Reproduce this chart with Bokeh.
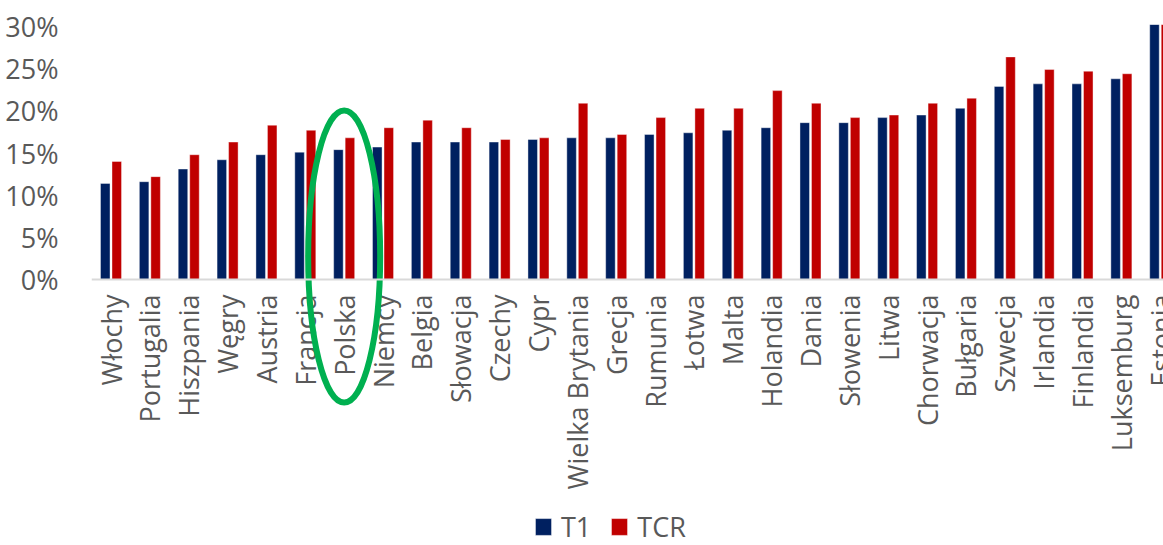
import numpy as np
from bokeh.plotting import figure
from bokeh.models import (Range1d, FixedTicker, CustomJSTickFormatter, Legend,
                          LegendItem, ColumnDataSource, Span)
from bokeh.core.properties import value
from bokeh.embed import file_html
from bokeh.resources import INLINE

countries = ["Włochy", "Portugalia", "Hiszpania", "Węgry", "Austria", "Francja",
             "Polska", "Niemcy", "Belgia", "Słowacja", "Czechy", "Cypr",
             "Wielka Brytania", "Grecja", "Rumunia", "Łotwa", "Malta", "Holandia",
             "Dania", "Słowenia", "Litwa", "Chorwacja", "Bułgaria", "Szwecja",
             "Irlandia", "Finlandia", "Luksemburg", "Estonia"]
t1 = [11.4, 11.6, 13.1, 14.2, 14.8, 15.1, 15.4, 15.7, 16.3, 16.3, 16.3, 16.6,
      16.8, 16.8, 17.2, 17.4, 17.7, 18.0, 18.6, 18.6, 19.2, 19.5, 20.3, 22.9,
      23.2, 23.2, 23.8, 34.0]
tcr = [14.0, 12.2, 14.8, 16.3, 18.3, 17.7, 16.8, 18.0, 18.9, 18.0, 16.6, 16.8,
       20.9, 17.2, 19.2, 20.3, 20.3, 22.4, 20.9, 19.2, 19.5, 20.9, 21.5, 26.4,
       24.9, 24.7, 24.4, 34.0]
series = ["T1", "TCR"]
y_ticks = [0, 5, 10, 15, 20, 25, 30]
highlight = "Polska"

FONT = "Open Sans"
GREY = "#595959"
NAVY = "#002060"
RED = "#C00000"
FS = "27px"

idx = np.arange(len(countries))
src = ColumnDataSource(dict(x1=idx - 0.148, x2=idx + 0.148, t1=t1, tcr=tcr))
lab_src = ColumnDataSource(dict(x=idx, y=np.zeros(len(idx)), name=countries))

p = figure(width=1163, height=545, x_range=Range1d(-0.502, 27.084),
           y_range=Range1d(-31.54, 30.24), output_backend="svg",
           toolbar_location=None, x_axis_location=None,
           min_border_left=91, min_border_top=24, min_border_right=0,
           min_border_bottom=0)
p.outline_line_color = None
p.xgrid.visible = False
p.ygrid.visible = False

r1 = p.vbar(x="x1", top="t1", bottom=0, width=0.245, source=src, fill_color=NAVY,
            line_color="white", line_alpha=0.5, line_width=0.8)
r2 = p.vbar(x="x2", top="tcr", bottom=0, width=0.245, source=src, fill_color=RED,
            line_color="white", line_alpha=0.5, line_width=0.8)

# category axis line at 0
p.add_layout(Span(location=0, dimension="width", line_color="#D9D9D9", line_width=2))

# category labels (vertical, reading upward)
p.text(x="x", y="y", text="name", source=lab_src, angle=np.pi / 2,
       y_offset=15, text_align="right", text_baseline="middle",
       text_font=value(FONT), text_font_size=FS, text_color=GREY)

# y axis
p.yaxis.ticker = FixedTicker(ticks=y_ticks)
p.yaxis.formatter = CustomJSTickFormatter(code="return Math.round(tick) + '%';")
p.yaxis.axis_line_color = None
p.yaxis.major_tick_line_color = None
p.yaxis.minor_tick_line_color = None
p.yaxis.major_label_text_font = FONT
p.yaxis.major_label_text_font_size = FS
p.yaxis.major_label_text_color = GREY
p.yaxis.major_label_standoff = 27

# green ellipse around highlighted country
hi = countries.index(highlight)
p.ellipse(x=[hi], y=[2.73], width=72, height=292, width_units="screen",
          height_units="screen", fill_alpha=0, line_color="#00B050", line_width=6)

legend = Legend(items=[LegendItem(label=series[0], renderers=[r1]),
                       LegendItem(label=series[1], renderers=[r2])],
                orientation="horizontal", location=(442, 0),
                padding=0, margin=0, spacing=18, label_standoff=8,
                glyph_width=20, glyph_height=21,
                label_text_font=FONT, label_text_font_size=FS,
                label_text_color=GREY, border_line_color=None,
                background_fill_alpha=0)
p.add_layout(legend)

open("out.html", "w").write(file_html(p, INLINE))
